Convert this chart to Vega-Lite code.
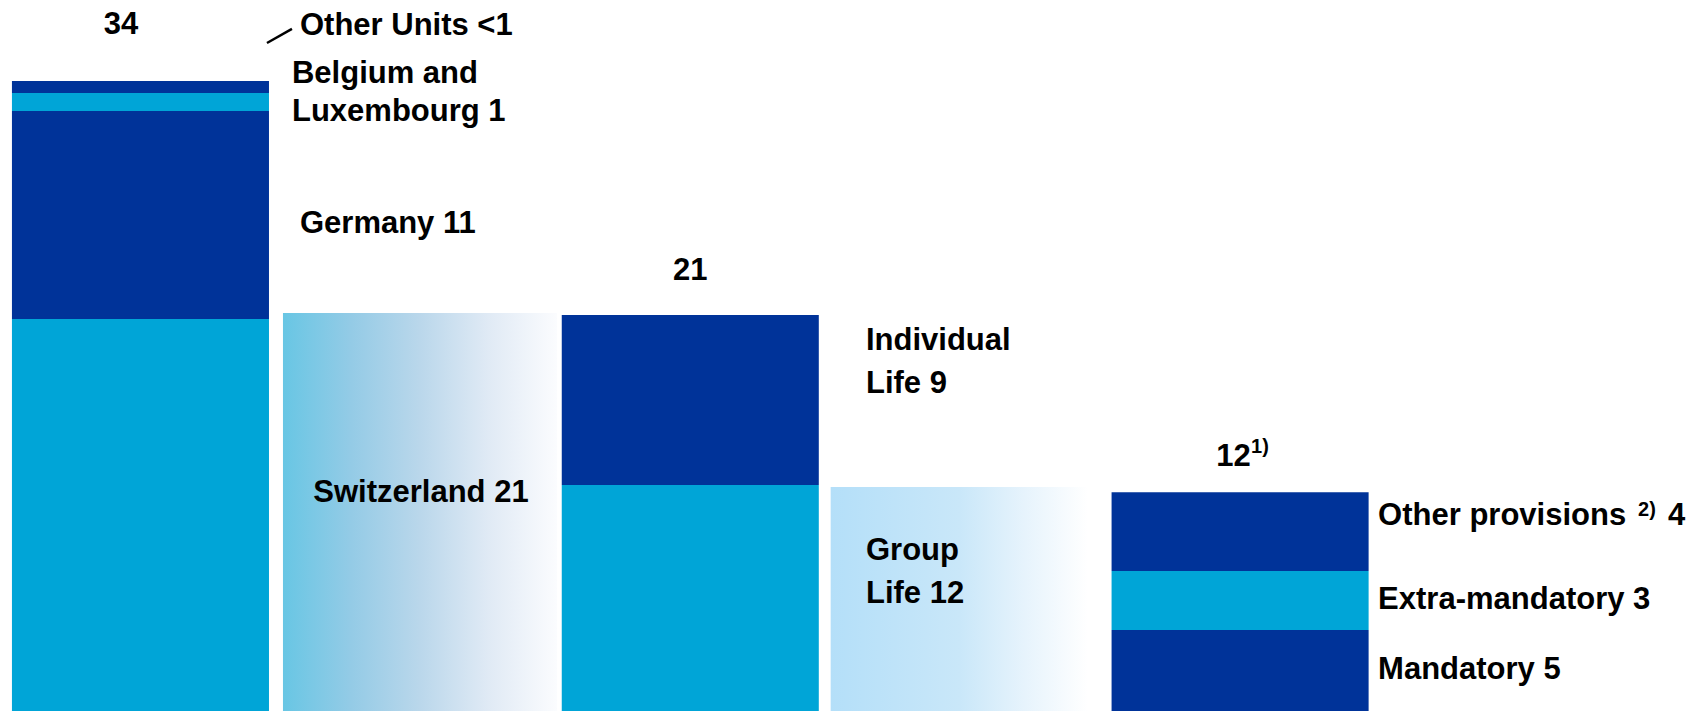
{
  "$schema": "https://vega.github.io/schema/vega-lite/v6.json",
  "width": 1708,
  "height": 711,
  "autosize": {"type": "fit", "contains": "padding"},
  "padding": 0,
  "background": "white",
  "config": {
    "view": {"stroke": null},
    "text": {"font": "Liberation Sans", "fontWeight": "bold", "fontSize": 31, "color": "#000000", "baseline": "middle"}
  },
  "datasets": {
    "segments": [
      {"bar": "Life reserves", "segment": "Switzerland", "rank": 1, "value": 21.15},
      {"bar": "Life reserves", "segment": "Germany", "rank": 2, "value": 11.23},
      {"bar": "Life reserves", "segment": "Belgium and Luxembourg", "rank": 3, "value": 0.97},
      {"bar": "Life reserves", "segment": "Other Units", "rank": 4, "value": 0.65},
      {"bar": "Switzerland by line", "segment": "Group Life", "rank": 1, "value": 12.2},
      {"bar": "Switzerland by line", "segment": "Individual Life", "rank": 2, "value": 9.17},
      {"bar": "Group Life by type", "segment": "Mandatory", "rank": 1, "value": 4.37},
      {"bar": "Group Life by type", "segment": "Extra-mandatory", "rank": 2, "value": 3.18},
      {"bar": "Group Life by type", "segment": "Other provisions", "rank": 3, "value": 4.26}
    ]
  },
  "encoding": {
    "x": {
      "field": "bar",
      "type": "nominal",
      "axis": null,
      "scale": {
        "type": "band",
        "domain": ["Life reserves", "Switzerland", "Switzerland by line", "Group Life", "Group Life by type"],
        "paddingInner": 0.065,
        "paddingOuter": 0.639,
        "align": 0.034
      }
    }
  },
  "layer": [
    {
      "data": {"name": "segments"},
      "mark": {"type": "bar"},
      "encoding": {
        "y": {"field": "value", "type": "quantitative", "axis": null, "stack": "zero", "scale": {"domain": [0, 38.37], "nice": false, "zero": true}},
        "color": {
          "field": "segment",
          "type": "nominal",
          "legend": null,
          "scale": {
            "domain": ["Switzerland", "Germany", "Belgium and Luxembourg", "Other Units", "Group Life", "Individual Life", "Mandatory", "Extra-mandatory", "Other provisions"],
            "range": ["#00a5d7", "#003399", "#00a5d7", "#003399", "#00a5d7", "#003399", "#003399", "#00a5d7", "#003399"]
          }
        },
        "order": {"field": "rank", "type": "quantitative"}
      }
    },
    {
      "data": {"values": [{"bar": "Switzerland", "value": 21.48}]},
      "mark": {
        "type": "bar",
        "width": {"band": 1.066},
        "xOffset": 4.6,
        "color": {
          "gradient": "linear",
          "x1": 0, "y1": 0, "x2": 1, "y2": 0,
          "stops": [
            {"offset": 0, "color": "#68c6e4"},
            {"offset": 0.25, "color": "#94cbe6"},
            {"offset": 0.5, "color": "#bad7eb"},
            {"offset": 0.75, "color": "#e0eaf5"},
            {"offset": 1, "color": "#fbfcfe"}
          ]
        }
      },
      "encoding": {"y": {"field": "value", "type": "quantitative", "axis": null}}
    },
    {
      "data": {"values": [{"bar": "Group Life", "value": 12.09}]},
      "mark": {
        "type": "bar",
        "width": {"band": 1.0},
        "xOffset": -6,
        "color": {
          "gradient": "linear",
          "x1": 0, "y1": 0, "x2": 1, "y2": 0,
          "stops": [
            {"offset": 0, "color": "#b4dff9"},
            {"offset": 0.5, "color": "#c9e7f9"},
            {"offset": 0.75, "color": "#e6f3fc"},
            {"offset": 1, "color": "#ffffff"}
          ]
        }
      },
      "encoding": {"y": {"field": "value", "type": "quantitative", "axis": null}}
    },
    {
      "data": {"values": [{"bar": "Life reserves", "from": 36.05, "to": 36.81}]},
      "mark": {"type": "rule", "color": "#000000", "strokeWidth": 2.5, "xOffset": 126.5, "x2Offset": 151.5},
      "encoding": {
        "x2": {"field": "bar"},
        "y": {"field": "from", "type": "quantitative", "axis": null},
        "y2": {"field": "to"}
      }
    },
    {
      "data": {"values": [{"bar": "Life reserves", "level": 37.0, "label": "34"}]},
      "mark": {"type": "text", "align": "center", "dx": -19.5},
      "encoding": {"y": {"field": "level", "type": "quantitative", "axis": null}, "text": {"field": "label"}}
    },
    {
      "data": {"values": [
        {"bar": "Life reserves", "level": 36.96, "label": "Other Units <1"},
        {"bar": "Life reserves", "level": 26.3, "label": "Germany 11"}
      ]},
      "mark": {"type": "text", "align": "left", "dx": 159.5},
      "encoding": {"y": {"field": "level", "type": "quantitative", "axis": null}, "text": {"field": "label"}}
    },
    {
      "data": {"values": [{"bar": "Life reserves", "level": 34.38, "label": "Belgium and\nLuxembourg 1"}]},
      "mark": {"type": "text", "align": "left", "dx": 151.5, "lineBreak": "\n", "lineHeight": 38},
      "encoding": {"y": {"field": "level", "type": "quantitative", "axis": null}, "text": {"field": "label"}}
    },
    {
      "data": {"values": [{"bar": "Switzerland", "level": 11.76, "label": "Switzerland 21"}]},
      "mark": {"type": "text", "align": "center", "dx": 5.6},
      "encoding": {"y": {"field": "level", "type": "quantitative", "axis": null}, "text": {"field": "label"}}
    },
    {
      "data": {"values": [{"bar": "Switzerland by line", "level": 23.75, "label": "21"}]},
      "mark": {"type": "text", "align": "center", "dx": 0},
      "encoding": {"y": {"field": "level", "type": "quantitative", "axis": null}, "text": {"field": "label"}}
    },
    {
      "data": {"values": [
        {"bar": "Switzerland by line", "level": 19.98, "label": "Individual\nLife 9"},
        {"bar": "Switzerland by line", "level": 8.64, "label": "Group\nLife 12"}
      ]},
      "mark": {"type": "text", "align": "left", "dx": 175.7, "lineBreak": "\n", "lineHeight": 43},
      "encoding": {"y": {"field": "level", "type": "quantitative", "axis": null}, "text": {"field": "label"}}
    },
    {
      "data": {"values": [{"bar": "Group Life by type", "level": 13.71, "label": "12"}]},
      "mark": {"type": "text", "align": "center", "dx": -6.6},
      "encoding": {"y": {"field": "level", "type": "quantitative", "axis": null}, "text": {"field": "label"}}
    },
    {
      "data": {"values": [{"bar": "Group Life by type", "level": 14.24, "label": "1)"}]},
      "mark": {"type": "text", "align": "left", "dx": 11, "fontSize": 20},
      "encoding": {"y": {"field": "level", "type": "quantitative", "axis": null}, "text": {"field": "label"}}
    },
    {
      "data": {"values": [
        {"bar": "Group Life by type", "level": 10.52, "label": "Other provisions"},
        {"bar": "Group Life by type", "level": 6.0, "label": "Extra-mandatory 3"},
        {"bar": "Group Life by type", "level": 2.2, "label": "Mandatory 5"}
      ]},
      "mark": {"type": "text", "align": "left", "dx": 138},
      "encoding": {"y": {"field": "level", "type": "quantitative", "axis": null}, "text": {"field": "label"}}
    },
    {
      "data": {"values": [{"bar": "Group Life by type", "level": 10.85, "label": "2)"}]},
      "mark": {"type": "text", "align": "left", "dx": 398, "fontSize": 20},
      "encoding": {"y": {"field": "level", "type": "quantitative", "axis": null}, "text": {"field": "label"}}
    },
    {
      "data": {"values": [{"bar": "Group Life by type", "level": 10.52, "label": "4"}]},
      "mark": {"type": "text", "align": "left", "dx": 428},
      "encoding": {"y": {"field": "level", "type": "quantitative", "axis": null}, "text": {"field": "label"}}
    }
  ]
}
